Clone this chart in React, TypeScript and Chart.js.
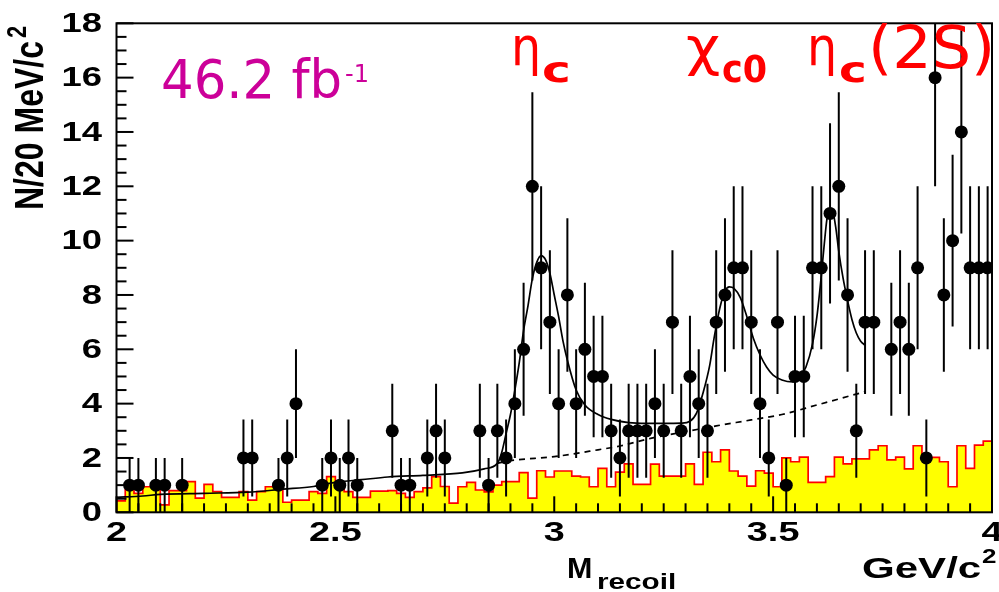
import React, { useEffect, useRef } from "react";
import { Chart, registerables } from "chart.js";

Chart.register(...registerables);

// ---------- axis ranges & ticks ----------
const X_MIN = 2.0;
const X_MAX = 4.0;
const Y_MIN = 0;
const Y_MAX = 18;
const BIN_WIDTH = 0.02;

const yTickValues = [0, 2, 4, 6, 8, 10, 12, 14, 16, 18];
const yTickLabels = ["0", "2", "4", "6", "8", "10", "12", "14", "16", "18"];
const xTickValues = [2, 2.5, 3, 3.5, 4];
const xTickLabels = ["2", "2.5", "3", "3.5", "4"];

// ---------- data points (bin centres, counts) ----------
const dataMass = [
  2.03, 2.05, 2.09, 2.11, 2.15,
  2.29, 2.31, 2.37, 2.39, 2.41,
  2.47, 2.49, 2.51, 2.53, 2.55,
  2.63, 2.65, 2.67, 2.71, 2.73, 2.75,
  2.83, 2.85, 2.87, 2.89, 2.91, 2.93, 2.95, 2.97, 2.99, 3.01,
  3.03, 3.05, 3.07, 3.09, 3.11, 3.13, 3.15, 3.17, 3.19, 3.21,
  3.23, 3.25, 3.27, 3.29, 3.31, 3.33, 3.35, 3.37, 3.39, 3.41,
  3.43, 3.45, 3.47, 3.49, 3.51, 3.53, 3.55, 3.57, 3.59, 3.61,
  3.63, 3.65, 3.67, 3.69, 3.71, 3.73,
  3.77, 3.79, 3.81, 3.83, 3.85, 3.87, 3.89, 3.91, 3.93, 3.95, 3.97, 3.99,
];
const dataCounts = [
  1, 1, 1, 1, 1,
  2, 2, 1, 2, 4,
  1, 2, 1, 2, 1,
  3, 1, 1, 2, 3, 2,
  3, 1, 3, 2, 4, 6, 12, 9, 7, 4,
  8, 4, 6, 5, 5, 3, 2, 3, 3, 3,
  4, 3, 7, 3, 5, 4, 3, 7, 8, 9,
  9, 7, 4, 2, 7, 1, 5, 5, 9, 9,
  11, 12, 8, 3, 7, 7,
  6, 7, 6, 9, 2, 16, 8, 10, 14, 9, 9, 9,
];

// ---------- background histogram (100 bins of 20 MeV) ----------
const bkgHist = [
  0.42, 0.83, 0.7, 0.94, 0.94, 0.27, 0.8, 0.8, 1.13, 0.52,
  1.03, 0.76, 0.55, 0.55, 0.76, 0.45, 0.76, 0.94, 0.94, 0.37,
  0.45, 0.45, 0.76, 0.7, 1.31, 0.9, 0.76, 0.55, 0.55, 0.78,
  0.78, 0.8, 0.7, 0.55, 0.76, 0.9, 1.31, 0.95, 0.34, 0.94,
  1.1, 0.82, 0.75, 1.0, 1.13, 1.13, 1.46, 0.52, 1.53, 1.3,
  1.52, 1.52, 1.33, 1.3, 0.94, 1.62, 0.94, 1.48, 1.78, 1.03,
  1.03, 1.77, 1.33, 1.33, 1.33, 1.78, 1.03, 2.21, 1.86, 2.3,
  1.52, 1.33, 0.96, 1.53, 1.44, 0.94, 2.0, 1.86, 2.03, 1.1,
  1.1, 1.31, 2.03, 1.78, 1.97, 1.97, 2.3, 2.45, 1.93, 2.03,
  1.6, 2.45, 2.05, 2.02, 1.86, 0.94, 2.45, 1.62, 2.47, 2.62,
];

// ---------- total fit (solid) ----------
const fitMass = [
  2.0, 2.06, 2.1, 2.2, 2.3, 2.38, 2.45, 2.5, 2.56, 2.62,
  2.7, 2.79, 2.84, 2.87, 2.88, 2.89, 2.9, 2.91, 2.92, 2.93,
  2.94, 2.95, 2.96, 2.97, 2.98, 2.99, 3.0, 3.01, 3.02, 3.03,
  3.05, 3.07, 3.1, 3.13, 3.17, 3.21, 3.25, 3.29, 3.31, 3.325,
  3.34, 3.355, 3.365, 3.378, 3.39, 3.4, 3.41, 3.425, 3.44, 3.455,
  3.47, 3.485, 3.5, 3.52, 3.545, 3.56, 3.575, 3.59, 3.6, 3.61,
  3.617, 3.623, 3.63, 3.636, 3.643, 3.65, 3.66, 3.67, 3.68, 3.69,
  3.7, 3.71,
];
const fitValue = [
  0.55, 0.6, 0.66, 0.7, 0.74, 0.85, 0.95, 1.1, 1.2, 1.3,
  1.36, 1.45, 1.6, 1.8, 2.2, 2.9, 3.6, 4.5, 5.5, 6.7,
  7.6, 8.6, 9.2, 9.45, 9.3, 8.8, 8.0, 7.2, 6.3, 5.6,
  4.5, 3.95, 3.6, 3.42, 3.3, 3.27, 3.27, 3.28, 3.35, 3.65,
  4.4, 5.4, 6.4, 7.5, 8.15, 8.3, 8.25, 7.9, 7.2, 6.4,
  5.8, 5.35, 5.05, 4.87, 4.8, 4.95, 5.35, 6.2, 7.2, 8.7,
  9.9, 10.8, 11.2, 11.1, 10.5, 9.6, 8.6, 7.8, 7.1, 6.6,
  6.3, 6.15,
];

// ---------- background component of fit (dashed) ----------
const bkgFitMass = [2.87, 2.9, 3.0, 3.1, 3.15, 3.22, 3.3, 3.37, 3.45, 3.52, 3.6, 3.71];
const bkgFitValue = [1.8, 1.9, 2.05, 2.3, 2.44, 2.72, 2.97, 3.18, 3.4, 3.6, 3.95, 4.44];

// ---------- tick structure ----------
const Y_MINOR_STEP = 0.5;
const Y_MINOR_PER_MAJOR = 4;
const X_MINOR_STEP = 0.05;
const X_MINOR_PER_MAJOR = 10;

const AXIS_FONT = '"Liberation Sans", Arial, sans-serif';
const HAND_FONT = '"DejaVu Sans", sans-serif';

function drawText(
  ctx: CanvasRenderingContext2D,
  text: string,
  x: number,
  y: number,
  font: string,
  color: string,
  align: CanvasTextAlign,
  baseline: CanvasTextBaseline,
  sx = 1,
  rot = 0,
  sy = 1
) {
  ctx.save();
  ctx.translate(x, y);
  if (rot) ctx.rotate(rot);
  ctx.scale(sx, sy);
  ctx.font = font;
  ctx.fillStyle = color;
  ctx.textAlign = align;
  ctx.textBaseline = baseline;
  ctx.fillText(text, 0, 0);
  ctx.restore();
}

const errorBarPlugin = {
  id: "errorBars",
  beforeDatasetDraw(chart: any, args: any) {
    if (args.index !== 3) return;
    const { ctx, chartArea, scales } = chart;
    ctx.save();
    ctx.beginPath();
    ctx.rect(chartArea.left, chartArea.top, chartArea.right - chartArea.left, chartArea.bottom - chartArea.top);
    ctx.clip();
    ctx.strokeStyle = "#000";
    ctx.lineWidth = 2;
    dataMass.forEach((m, i) => {
      const c = dataCounts[i];
      const e = Math.sqrt(c);
      const px = scales.x.getPixelForValue(m);
      ctx.beginPath();
      ctx.moveTo(px, scales.y.getPixelForValue(c - e));
      ctx.lineTo(px, scales.y.getPixelForValue(c + e));
      ctx.stroke();
    });
    ctx.restore();
  },
};

const decorPlugin = {
  id: "decor",
  afterDraw(chart: any) {
    const { ctx, chartArea, scales } = chart;
    const { left, right, top, bottom } = chartArea;
    const xs = scales.x;
    const ys = scales.y;

    ctx.save();
    ctx.strokeStyle = "#000";
    ctx.lineWidth = 2;
    ctx.strokeRect(left, top, right - left, bottom - top);

    // y ticks (inside)
    const nY = Math.round((Y_MAX - Y_MIN) / Y_MINOR_STEP);
    for (let k = 0; k <= nY; k++) {
      const py = ys.getPixelForValue(Y_MIN + k * Y_MINOR_STEP);
      const len = k % Y_MINOR_PER_MAJOR === 0 ? 17 : 10;
      ctx.beginPath();
      ctx.moveTo(left, py);
      ctx.lineTo(left + len, py);
      ctx.stroke();
    }
    // x ticks (inside)
    const nX = Math.round((X_MAX - X_MIN) / X_MINOR_STEP);
    for (let k = 0; k <= nX; k++) {
      const px = xs.getPixelForValue(X_MIN + k * X_MINOR_STEP);
      const len = k % X_MINOR_PER_MAJOR === 0 ? 16 : 9;
      ctx.beginPath();
      ctx.moveTo(px, bottom);
      ctx.lineTo(px, bottom - len);
      ctx.stroke();
    }
    ctx.restore();

    // tick labels
    yTickValues.forEach((v, i) => {
      drawText(ctx, yTickLabels[i], 102, ys.getPixelForValue(v) + 1, `bold 28px ${AXIS_FONT}`, "#000", "right", "middle", 1.3);
    });
    xTickValues.forEach((v, i) => {
      drawText(ctx, xTickLabels[i], xs.getPixelForValue(v), 533, `bold 28px ${AXIS_FONT}`, "#000", "center", "middle", 1.35);
    });

    // y axis title (rotated)
    drawText(ctx, "N/20 MeV/c", 32, 210, `bold 32px ${AXIS_FONT}`, "#000", "left", "middle", 1, -Math.PI / 2, 1.25);
    drawText(ctx, "2", 18, 38, `bold 22px ${AXIS_FONT}`, "#000", "left", "middle", 1, -Math.PI / 2, 1.25);

    // x axis title
    drawText(ctx, "M", 567, 578, `bold 29px ${AXIS_FONT}`, "#000", "left", "alphabetic", 1.05);
    drawText(ctx, "recoil", 597, 589, `bold 22px ${AXIS_FONT}`, "#000", "left", "alphabetic", 1.35);
    drawText(ctx, "GeV/c", 862, 578, `bold 29px ${AXIS_FONT}`, "#000", "left", "alphabetic", 1.45);
    drawText(ctx, "2", 982, 563, `bold 20px ${AXIS_FONT}`, "#000", "left", "alphabetic", 1.3);

    // luminosity
    const mag = "#cc0099";
    drawText(ctx, "46.2 fb", 161, 98, `54px ${HAND_FONT}`, mag, "left", "alphabetic", 0.95);
    drawText(ctx, "-1", 345, 82, `24px ${HAND_FONT}`, mag, "left", "alphabetic", 1.0);

    // resonance labels
    const red = "#ff0000";
    drawText(ctx, "η", 511, 65, `54px ${HAND_FONT}`, red, "left", "alphabetic", 0.88);
    drawText(ctx, "c", 542, 82, `bold 36px ${HAND_FONT}`, red, "left", "alphabetic", 1.35);

    drawText(ctx, "χ", 686, 65, `54px ${HAND_FONT}`, red, "left", "alphabetic", 1.1);
    drawText(ctx, "c0", 722, 82, `bold 38px ${HAND_FONT}`, red, "left", "alphabetic", 0.92);

    drawText(ctx, "η", 807, 65, `54px ${HAND_FONT}`, red, "left", "alphabetic", 0.88);
    drawText(ctx, "c", 839, 82, `bold 36px ${HAND_FONT}`, red, "left", "alphabetic", 1.3);
    drawText(ctx, "(2S)", 868, 68, `58px ${HAND_FONT}`, red, "left", "alphabetic", 1.07);
  },
};

export default function App() {
  const ref = useRef<HTMLCanvasElement>(null);

  useEffect(() => {
    const canvas = ref.current;
    if (!canvas) return;

    const histPoints: { x: number; y: number }[] = [{ x: X_MIN, y: 0 }];
    bkgHist.forEach((v, i) => histPoints.push({ x: X_MIN + i * BIN_WIDTH, y: v }));
    histPoints.push({ x: X_MAX, y: bkgHist[bkgHist.length - 1] });
    histPoints.push({ x: X_MAX, y: 0 });

    const fitPoints = fitMass.map((m, i) => ({ x: m, y: fitValue[i] }));
    const bkgFitPoints = bkgFitMass.map((m, i) => ({ x: m, y: bkgFitValue[i] }));
    const dataPoints = dataMass.map((m, i) => ({ x: m, y: dataCounts[i] }));

    const chart = new Chart(canvas, {
      type: "line",
      data: {
        datasets: [
          {
            label: "background MC",
            data: histPoints,
            stepped: true,
            fill: "origin",
            backgroundColor: "#ffff00",
            borderColor: "#ff0000",
            borderWidth: 1.7,
            pointRadius: 0,
            order: 4,
          },
          {
            label: "fit",
            data: fitPoints,
            borderColor: "#000",
            borderWidth: 1.7,
            pointRadius: 0,
            cubicInterpolationMode: "monotone",
            fill: false,
            order: 3,
          },
          {
            label: "background fit",
            data: bkgFitPoints,
            borderColor: "#000",
            borderWidth: 1.7,
            borderDash: [6, 5],
            pointRadius: 0,
            cubicInterpolationMode: "monotone",
            fill: false,
            order: 2,
          },
          {
            label: "data",
            data: dataPoints,
            showLine: false,
            pointRadius: 6.5,
            pointStyle: "circle",
            pointBackgroundColor: "#000",
            pointBorderColor: "#000",
            pointBorderWidth: 0,
            order: 1,
          },
        ],
      },
      options: {
        animation: false,
        responsive: false,
        devicePixelRatio: 1,
        events: [],
        layout: { padding: { left: 0, top: 23.3, right: 7, bottom: 0 } },
        plugins: { legend: { display: false }, tooltip: { enabled: false } },
        scales: {
          x: {
            type: "linear",
            min: X_MIN,
            max: X_MAX,
            ticks: { display: false },
            grid: { display: false },
            border: { display: false },
            afterFit: (s: any) => {
              s.height = 79.7;
            },
          },
          y: {
            type: "linear",
            min: Y_MIN,
            max: Y_MAX,
            ticks: { display: false },
            grid: { display: false },
            border: { display: false },
            afterFit: (s: any) => {
              s.width = 116.5;
            },
          },
        },
      } as any,
      plugins: [errorBarPlugin, decorPlugin],
    });

    return () => chart.destroy();
  }, []);

  return (
    <div style={{ position: "absolute", left: 0, top: 0, width: 999, height: 592, background: "#fff" }}>
      <canvas ref={ref} width={999} height={592} style={{ display: "block", width: 999, height: 592 }} />
    </div>
  );
}
